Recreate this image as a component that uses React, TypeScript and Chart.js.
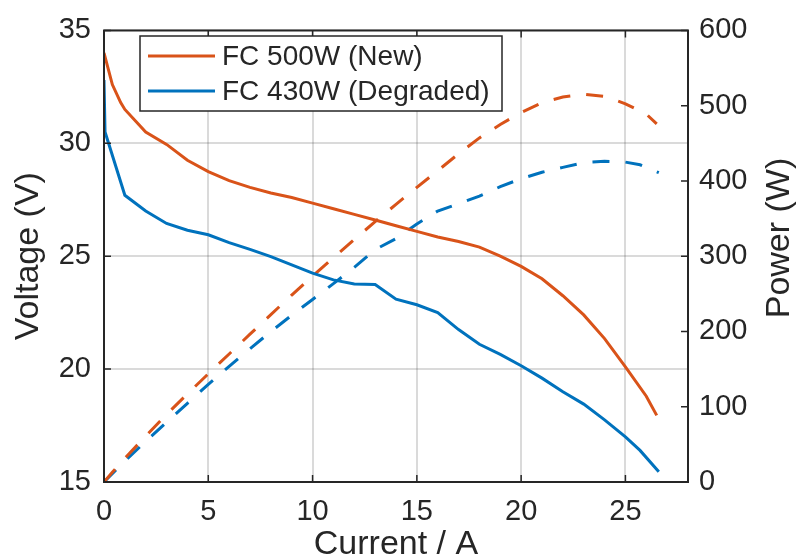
import React, { useEffect, useRef } from 'react';
import { Chart, registerables } from 'chart.js';

Chart.register(...registerables);

// ---------- data ----------
const newCurrent = [0, 0.4, 0.8, 1, 2, 3, 4, 5, 6, 7, 8, 9, 10, 11, 12, 13, 14, 15, 16, 17, 18, 19, 20, 21, 22, 23, 24, 25, 26, 26.5];
const newVoltage = [34.0, 32.6, 31.8, 31.5, 30.5, 29.95, 29.25, 28.75, 28.35, 28.05, 27.8, 27.6, 27.35, 27.1, 26.85, 26.6, 26.35, 26.1, 25.85, 25.65, 25.4, 25.0, 24.55, 24.0, 23.25, 22.4, 21.35, 20.1, 18.8, 17.95];
const newPower = [0, 13.0, 25.4, 31.5, 61.0, 89.9, 117.0, 143.8, 170.1, 196.4, 222.4, 248.4, 273.5, 298.1, 322.2, 345.8, 368.9, 391.5, 413.6, 436.1, 457.2, 475.0, 491.0, 504.0, 511.5, 515.2, 512.4, 502.5, 488.8, 475.7];

const oldCurrent = [0, 0.05, 1, 2, 3, 4, 5, 6, 7, 8, 9, 10, 11, 12, 13, 14, 15, 16, 17, 18, 19, 20, 21, 22, 23, 24, 25, 25.7, 26.6];
const oldVoltage = [32.8, 30.5, 27.7, 27.0, 26.45, 26.15, 25.95, 25.6, 25.3, 24.98, 24.62, 24.25, 23.95, 23.77, 23.75, 23.1, 22.85, 22.5, 21.75, 21.1, 20.65, 20.15, 19.6, 19.0, 18.45, 17.75, 17.0, 16.4, 15.45];
const oldPower = [0, 1.5, 27.7, 54.0, 79.4, 104.6, 129.8, 153.6, 177.1, 199.8, 221.6, 242.5, 263.5, 285.2, 308.8, 323.4, 342.8, 360.0, 369.8, 379.8, 392.4, 403.0, 411.6, 418.0, 424.4, 426.0, 425.0, 421.5, 411.0];

const xTicks = [0, 5, 10, 15, 20, 25];
const voltageTicks = [15, 20, 25, 30, 35];
const powerTicks = [0, 100, 200, 300, 400, 500, 600];

const legendLabels = ['FC 500W (New)', 'FC 430W (Degraded)'];
const xTitle = 'Current / A';
const yTitle = 'Voltage (V)';
const y1Title = 'Power (W)';

// ---------- styles ----------
const FONT = '"Liberation Sans", Arial, Helvetica, sans-serif';
const TEXT = '#262626';
const ORANGE = '#D95319';
const BLUE = '#0072BD';
const GRID = 'rgba(38,38,38,0.17)';

const pts = (xs: number[], ys: number[]) => xs.map((x, i) => ({ x, y: ys[i] }));

const framePlugin = {
  id: 'frame',
  afterDatasetsDraw(chart: any) {
    const { ctx, chartArea: a, scales } = chart;
    const L = a.left, R = a.right, T = a.top, B = a.bottom;
    ctx.save();
    ctx.strokeStyle = TEXT;
    ctx.lineWidth = 2;
    ctx.lineCap = 'square';
    ctx.beginPath();
    ctx.rect(L, T, R - L, B - T);
    ctx.stroke();
    ctx.lineWidth = 1.5;
    ctx.lineCap = 'butt';
    const tl = 7;
    ctx.beginPath();
    xTicks.forEach((v) => {
      const px = scales.x.getPixelForValue(v);
      ctx.moveTo(px, B); ctx.lineTo(px, B - tl);
      ctx.moveTo(px, T); ctx.lineTo(px, T + tl);
    });
    voltageTicks.forEach((v) => {
      const py = scales.y.getPixelForValue(v);
      ctx.moveTo(L, py); ctx.lineTo(L + tl, py);
    });
    powerTicks.forEach((v) => {
      const py = scales.y1.getPixelForValue(v);
      ctx.moveTo(R, py); ctx.lineTo(R - tl, py);
    });
    ctx.stroke();

    // legend
    const bx = 140, by = 36, bw = 362, bh = 75;
    ctx.fillStyle = '#ffffff';
    ctx.fillRect(bx, by, bw, bh);
    ctx.strokeStyle = TEXT;
    ctx.lineWidth = 1.5;
    ctx.strokeRect(bx, by, bw, bh);
    const colors = [ORANGE, BLUE];
    const rows = [56, 91];
    ctx.font = `28px ${FONT}`;
    ctx.textBaseline = 'middle';
    ctx.textAlign = 'left';
    legendLabels.forEach((lab, i) => {
      ctx.strokeStyle = colors[i];
      ctx.lineWidth = 3;
      ctx.beginPath();
      ctx.moveTo(148, rows[i]);
      ctx.lineTo(215, rows[i]);
      ctx.stroke();
      ctx.fillStyle = TEXT;
      ctx.fillText(lab, 222, rows[i] + 1);
    });

    // right axis title (reads bottom-to-top)
    ctx.save();
    ctx.translate(780, 238);
    ctx.rotate(-Math.PI / 2);
    ctx.font = `34px ${FONT}`;
    ctx.textAlign = 'center';
    ctx.textBaseline = 'middle';
    ctx.fillStyle = TEXT;
    ctx.fillText(y1Title, 0, 0);
    ctx.restore();
    ctx.restore();
  },
};

export default function App() {
  const ref = useRef<HTMLCanvasElement | null>(null);

  useEffect(() => {
    document.body.style.margin = '0';
    const canvas = ref.current;
    if (!canvas) return;
    const chart = new Chart(canvas, {
      type: 'line',
      data: {
        datasets: [
          { label: legendLabels[0], data: pts(newCurrent, newVoltage), yAxisID: 'y', borderColor: ORANGE, borderWidth: 3, pointRadius: 0, tension: 0, fill: false },
          { label: legendLabels[1], data: pts(oldCurrent, oldVoltage), yAxisID: 'y', borderColor: BLUE, borderWidth: 3, pointRadius: 0, tension: 0, fill: false },
          { label: legendLabels[0] + ' power', data: pts(newCurrent, newPower), yAxisID: 'y1', borderColor: ORANGE, borderWidth: 3, borderDash: [17, 16], borderCapStyle: 'butt', pointRadius: 0, tension: 0, fill: false },
          { label: legendLabels[1] + ' power', data: pts(oldCurrent, oldPower), yAxisID: 'y1', borderColor: BLUE, borderWidth: 3, borderDash: [17, 16], borderCapStyle: 'butt', pointRadius: 0, tension: 0, fill: false },
        ],
      },
      options: {
        animation: false,
        responsive: false,
        maintainAspectRatio: false,
        layout: { padding: { top: 28, left: 0, right: 0, bottom: 0 } },
        plugins: { legend: { display: false }, tooltip: { enabled: false } },
        scales: {
          x: {
            type: 'linear', position: 'bottom', min: 0, max: 28,
            afterBuildTicks: (s: any) => { s.ticks = xTicks.map((v) => ({ value: v })); },
            afterFit: (s: any) => { s.height = 78; },
            grid: { color: GRID, lineWidth: 2, drawTicks: false },
            border: { display: false },
            ticks: { font: { family: FONT, size: 29 }, color: TEXT, padding: 13, maxRotation: 0, autoSkip: false },
            title: { display: true, text: xTitle, color: TEXT, font: { family: FONT, size: 34, lineHeight: 1 }, padding: { top: 0, bottom: -2 } },
          },
          y: {
            type: 'linear', position: 'left', min: 15, max: 35,
            afterBuildTicks: (s: any) => { s.ticks = voltageTicks.map((v) => ({ value: v })); },
            afterFit: (s: any) => { s.width = 104; },
            grid: { color: GRID, lineWidth: 2, drawTicks: false },
            border: { display: false },
            ticks: { font: { family: FONT, size: 29 }, color: TEXT, padding: 13 },
            title: { display: true, text: yTitle, color: TEXT, font: { family: FONT, size: 34, lineHeight: 1 }, padding: { top: 12, bottom: 0 } },
          },
          y1: {
            type: 'linear', position: 'right', min: 0, max: 600,
            afterBuildTicks: (s: any) => { s.ticks = powerTicks.map((v) => ({ value: v })); },
            afterFit: (s: any) => { s.width = 111; },
            grid: { display: false, drawTicks: false, drawOnChartArea: false },
            border: { display: false },
            ticks: { font: { family: FONT, size: 29 }, color: TEXT, padding: 11 },
            title: { display: false },
          },
        },
      },
      plugins: [framePlugin],
    } as any);
    return () => chart.destroy();
  }, []);

  return <canvas ref={ref} width={799} height={560} style={{ display: 'block', width: '799px', height: '560px' }} />;
}
